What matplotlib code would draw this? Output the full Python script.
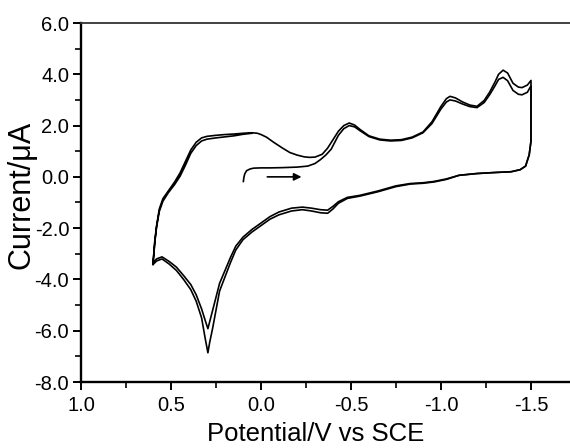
import numpy as np
import matplotlib
matplotlib.use("Agg")
import matplotlib.pyplot as plt
from matplotlib.ticker import MultipleLocator, FormatStrFormatter

plt.rcParams['font.family'] = ['Liberation Sans', 'DejaVu Sans']

# ---- data (potential in V vs SCE, current in uA) ----
# initial segment of the first scan (starts at +0.1 V, scanning negative)
E_init = [0.098, 0.095, 0.09, 0.08, 0.06, 0.04, 0.0, -0.05, -0.12, -0.20, -0.26, -0.30, -0.33, -0.36, -0.39]
I_init = [-0.18, -0.02, 0.12, 0.24, 0.31, 0.34, 0.35, 0.35, 0.36, 0.38, 0.42, 0.52, 0.67, 0.85, 1.08]

# forward (negative-going) branch, +0.6 V -> -1.5 V
E_fwd = [0.60, 0.595, 0.59, 0.58, 0.565, 0.545, 0.515, 0.48, 0.45, 0.42,
         0.39, 0.36, 0.33, 0.30, 0.25, 0.20, 0.15, 0.10, 0.05, 0.02,
         0.0, -0.03, -0.07, -0.12, -0.16, -0.20, -0.24, -0.27, -0.30, -0.34,
         -0.37, -0.40, -0.43, -0.46, -0.49, -0.52, -0.55, -0.60, -0.66, -0.72,
         -0.78, -0.84, -0.90, -0.95, -1.00, -1.03, -1.05, -1.08, -1.12, -1.16,
         -1.20, -1.24, -1.27, -1.30, -1.32, -1.345, -1.37, -1.40, -1.43, -1.45,
         -1.48, -1.50]
I_fwd_1 = [-3.42, -3.0, -2.55, -1.95, -1.35, -0.95, -0.62, -0.3, 0.02, 0.45,
           0.92, 1.22, 1.4, 1.47, 1.52, 1.56, 1.6, 1.66, 1.7, 1.7,
           1.65, 1.55, 1.35, 1.12, 0.95, 0.85, 0.78, 0.76, 0.77, 0.88,
           1.1, 1.35, 1.62, 1.88, 2.0, 1.95, 1.8, 1.57, 1.44, 1.40,
           1.42, 1.52, 1.72, 2.08, 2.65, 2.92, 3.0, 2.96, 2.84, 2.74,
           2.7, 2.9, 3.2, 3.55, 3.8, 3.88, 3.75, 3.37, 3.22, 3.2,
           3.3, 3.55]
I_fwd_2 = [-3.35, -2.95, -2.5, -1.9, -1.25, -0.85, -0.55, -0.2, 0.15, 0.6,
           1.05, 1.35, 1.52, 1.58, 1.62, 1.65, 1.67, 1.7, 1.72, 1.7,
           1.65, 1.55, 1.35, 1.12, 0.95, 0.85, 0.78, 0.76, 0.77, 0.88,
           1.12, 1.45, 1.78, 2.0, 2.1, 2.02, 1.85, 1.6, 1.47, 1.43,
           1.45, 1.55, 1.75, 2.15, 2.75, 3.05, 3.14, 3.08, 2.92, 2.8,
           2.75, 2.98, 3.3, 3.7, 4.0, 4.16, 4.05, 3.65, 3.5, 3.48,
           3.58, 3.76]

# reverse (positive-going) branch, -1.5 V -> +0.6 V
E_rev = [-1.50, -1.50, -1.50, -1.49, -1.47, -1.44, -1.39, -1.30, -1.20, -1.10,
         -1.03, -0.96, -0.90, -0.83, -0.75, -0.65, -0.55, -0.48, -0.43, -0.40,
         -0.37, -0.33, -0.28, -0.23, -0.17, -0.10, -0.05, 0.00, 0.05, 0.10,
         0.14, 0.17, 0.20, 0.23, 0.25, 0.27, 0.285, 0.295, 0.31, 0.33,
         0.36, 0.39, 0.43, 0.47, 0.51, 0.55, 0.58, 0.60]
I_rev_1 = [3.55, 2.5, 1.4, 0.86, 0.42, 0.28, 0.2, 0.17, 0.13, 0.06,
           -0.1, -0.2, -0.25, -0.28, -0.38, -0.58, -0.75, -0.84, -1.03, -1.25,
           -1.42, -1.40, -1.33, -1.28, -1.33, -1.48, -1.65, -1.9, -2.15, -2.45,
           -2.85, -3.35, -3.9, -4.45, -5.2, -5.95, -6.45, -6.86, -6.3, -5.5,
           -4.85, -4.4, -4.0, -3.65, -3.4, -3.2, -3.28, -3.42]
I_rev_2 = [3.76, 2.5, 1.4, 0.86, 0.42, 0.28, 0.2, 0.17, 0.13, 0.06,
           -0.08, -0.18, -0.23, -0.26, -0.35, -0.55, -0.72, -0.8, -0.97, -1.15,
           -1.3, -1.28, -1.22, -1.18, -1.22, -1.37, -1.55, -1.8, -2.05, -2.35,
           -2.7, -3.15, -3.65, -4.15, -4.7, -5.25, -5.65, -5.92, -5.6, -5.15,
           -4.6, -4.2, -3.85, -3.52, -3.3, -3.12, -3.2, -3.35]

x_ticks = [1.0, 0.5, 0.0, -0.5, -1.0, -1.5]
y_ticks = [6.0, 4.0, 2.0, 0.0, -2.0, -4.0, -6.0, -8.0]

# ---- assemble scans ----
E_fwd_a = np.array(E_fwd)
I_f1 = np.array(I_fwd_1)
tail = E_fwd_a <= -0.43
head = E_fwd_a >= 0.05
scan1_E = np.concatenate([E_init, E_fwd_a[tail], E_rev])
scan1_I = np.concatenate([I_init, I_f1[tail], I_rev_1])
scan2_E = np.concatenate([E_fwd, E_rev, E_fwd_a[head]])
scan2_I = np.concatenate([I_fwd_2, I_rev_2, I_f1[head]])

W, H = 570, 448
fig = plt.figure(figsize=(W / 100, H / 100), dpi=100)
ax = fig.add_axes([81 / W, 1 - 382 / H, 1 - 81 / W, (382 - 23) / H])

ax.plot(scan1_E, scan1_I, color='black', lw=1.2, solid_joinstyle='round')
ax.plot(scan2_E, scan2_I, color='black', lw=1.2, solid_joinstyle='round')

ax.annotate('', xy=(-0.225, 0.0), xytext=(-0.035, 0.0),
            arrowprops=dict(arrowstyle='-|>', color='black', lw=1.2,
                            mutation_scale=11, shrinkA=0, shrinkB=0))

ax.set_xlim(1.0, 1.0 - (W - 81) / 180.0)
ax.set_ylim(-8.0, 6.0)
ax.set_xticks(x_ticks)
ax.set_yticks(y_ticks)
ax.xaxis.set_minor_locator(MultipleLocator(0.25))
ax.yaxis.set_minor_locator(MultipleLocator(1.0))
ax.xaxis.set_major_formatter(FormatStrFormatter('%.1f'))
ax.yaxis.set_major_formatter(FormatStrFormatter('%.1f'))

ax.tick_params(which='major', direction='out', length=6, width=1.4,
               labelsize=14.5, pad=2.5, colors='black')
ax.tick_params(which='minor', direction='out', length=4, width=1.2)
ax.tick_params(axis='x', which='major', pad=4)
for lab in ax.get_xticklabels() + ax.get_yticklabels():
    lab.set_fontweight('medium')
ax.spines['right'].set_visible(False)
ax.spines['left'].set_linewidth(1.7)
ax.spines['bottom'].set_linewidth(1.7)
ax.spines['top'].set_linewidth(1.3)
ax.spines['top'].set_color('#333333')

fig.text(316 / W, 1 - 434 / H, 'Potential/V vs SCE', ha='center', va='center',
         fontsize=18.5)
fig.text(22 / W, 1 - 195 / H, 'Current/μA', ha='center', va='center',
         rotation=90, fontsize=22)

fig.savefig('out.png', dpi=100)
